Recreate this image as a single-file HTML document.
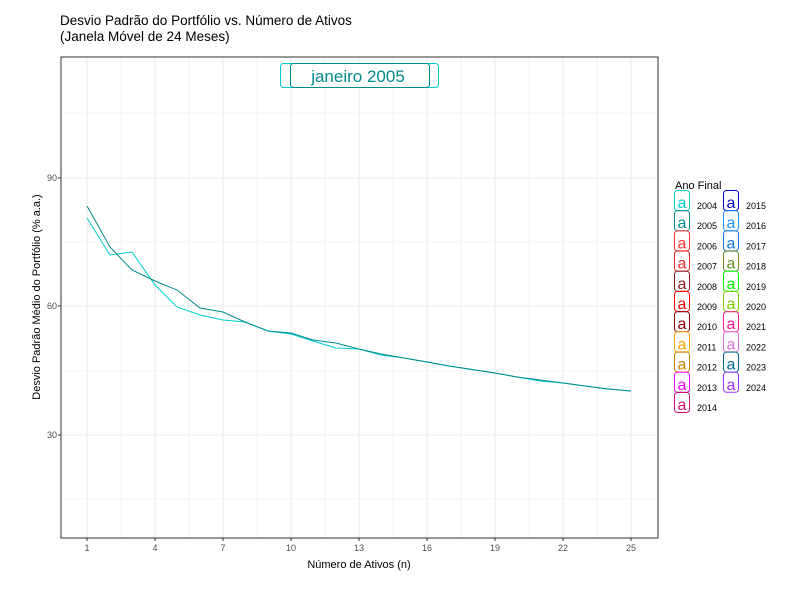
<!DOCTYPE html>
<html><head><meta charset="utf-8"><style>
body{margin:0;background:#fff;}
svg{display:block;font-family:"Liberation Sans",sans-serif;}
</style></head><body>
<svg width="800" height="600" xmlns="http://www.w3.org/2000/svg">
<rect width="800" height="600" fill="#fff"/>
<text x="60" y="25" font-size="13.5">Desvio Padrão do Portfólio vs. Número de Ativos</text>
<text x="60" y="41" font-size="13.5">(Janela Móvel de 24 Meses)</text>
<g stroke="#ebebeb" stroke-width="0.6">
<line x1="61" x2="658" y1="113" y2="113"/><line x1="61" x2="658" y1="242" y2="242"/><line x1="61" x2="658" y1="371" y2="371"/><line x1="61" x2="658" y1="499" y2="499"/>
<line y1="57" y2="538" x1="121" x2="121"/><line y1="57" y2="538" x1="189" x2="189"/><line y1="57" y2="538" x1="257" x2="257"/><line y1="57" y2="538" x1="325" x2="325"/><line y1="57" y2="538" x1="393" x2="393"/><line y1="57" y2="538" x1="461" x2="461"/><line y1="57" y2="538" x1="529" x2="529"/><line y1="57" y2="538" x1="597" x2="597"/>
</g>
<g stroke="#ebebeb" stroke-width="1.1">
<line x1="61" x2="658" y1="178" y2="178"/><line x1="61" x2="658" y1="306" y2="306"/><line x1="61" x2="658" y1="435" y2="435"/>
<line y1="57" y2="538" x1="87" x2="87"/><line y1="57" y2="538" x1="155" x2="155"/><line y1="57" y2="538" x1="223" x2="223"/><line y1="57" y2="538" x1="291" x2="291"/><line y1="57" y2="538" x1="359" x2="359"/><line y1="57" y2="538" x1="427" x2="427"/><line y1="57" y2="538" x1="495" x2="495"/><line y1="57" y2="538" x1="563" x2="563"/><line y1="57" y2="538" x1="631" x2="631"/>
</g>
<polyline fill="none" stroke="#00CED1" stroke-width="1" points="87,218 110,255 132,252 155,285 177,307 200,315 223,320 245,322 268,331 291,334 313,341 336,348 359,349 381,355 404,358 427,362 449,366 472,369.5 495,373 517,377 540,381 563,383 585,386 608,389 631,391"/>
<polyline fill="none" stroke="#008B8B" stroke-width="1" points="87,206 110,247 132,270 155,281 177,290 200,308 223,312 245,322 268,331 291,333 313,340 336,343 359,349 381,354 404,358 427,362 449,366 472,369.5 495,373 517,377 540,380 563,383 585,386 608,389 631,391"/>
<rect x="61" y="57" width="597" height="481" fill="none" stroke="#333" stroke-width="1"/>
<rect x="280.5" y="63.5" width="158" height="24" rx="3" fill="#fff" stroke="#00CED1"/>
<rect x="290.5" y="63.5" width="139" height="24" rx="3" fill="none" stroke="#008B8B"/>
<text x="358" y="82" font-size="17" fill="#008B8B" text-anchor="middle">janeiro 2005</text>
<g font-size="9" fill="#4d4d4d" text-anchor="end">
<text x="57" y="181">90</text><text x="57" y="309">60</text><text x="57" y="438">30</text>
</g>
<g stroke="#333"><line x1="58" x2="61" y1="178" y2="178"/><line x1="58" x2="61" y1="306" y2="306"/><line x1="58" x2="61" y1="435" y2="435"/>
<line y1="538" y2="541" x1="87" x2="87"/><line y1="538" y2="541" x1="155" x2="155"/><line y1="538" y2="541" x1="223" x2="223"/><line y1="538" y2="541" x1="291" x2="291"/><line y1="538" y2="541" x1="359" x2="359"/><line y1="538" y2="541" x1="427" x2="427"/><line y1="538" y2="541" x1="495" x2="495"/><line y1="538" y2="541" x1="563" x2="563"/><line y1="538" y2="541" x1="631" x2="631"/></g>
<g font-size="9" fill="#4d4d4d" text-anchor="middle">
<text x="87" y="551">1</text><text x="155" y="551">4</text><text x="223" y="551">7</text><text x="291" y="551">10</text><text x="359" y="551">13</text><text x="427" y="551">16</text><text x="495" y="551">19</text><text x="563" y="551">22</text><text x="631" y="551">25</text>
</g>
<text x="359" y="568" font-size="11" text-anchor="middle">Número de Ativos (n)</text>
<text transform="translate(40,297) rotate(-90)" font-size="11" text-anchor="middle">Desvio Padrão Médio do Portfólio (% a.a.)</text>
<text x="675" y="189" font-size="11">Ano Final</text>
<g font-size="9" id="leg"></g>
</svg>
<script>
var c1=[["2004","#00CED1"],["2005","#008B8B"],["2006","#FF3030"],["2007","#EE2C2C"],["2008","#8B1A1A"],["2009","#FF0000"],["2010","#8B0000"],["2011","#FFA500"],["2012","#CD8500"],["2013","#FF00FF"],["2014","#CD1076"]];
var c2=[["2015","#0000CD"],["2016","#1E90FF"],["2017","#1874CD"],["2018","#6B8E23"],["2019","#00FF00"],["2020","#7CCD00"],["2021","#FF1493"],["2022","#DA70D6"],["2023","#00688B"],["2024","#9B30FF"]];
var g=document.getElementById("leg"),s="";
function add(a,x){a.forEach(function(d,i){var y=190+i*20.2;
s+='<rect x="'+(x+0.5)+'" y="'+(y+0.5)+'" width="15" height="20" rx="3" fill="#fff" stroke="'+d[1]+'"/>';
s+='<text x="'+(x+8)+'" y="'+(y+18)+'" font-size="16" fill="'+d[1]+'" text-anchor="middle">a</text>';
s+='<text x="'+(x+23)+'" y="'+(y+19)+'" fill="#000">'+d[0]+'</text>';});}
add(c1,674);add(c2,723);g.innerHTML=s;
</script>
</body></html>
